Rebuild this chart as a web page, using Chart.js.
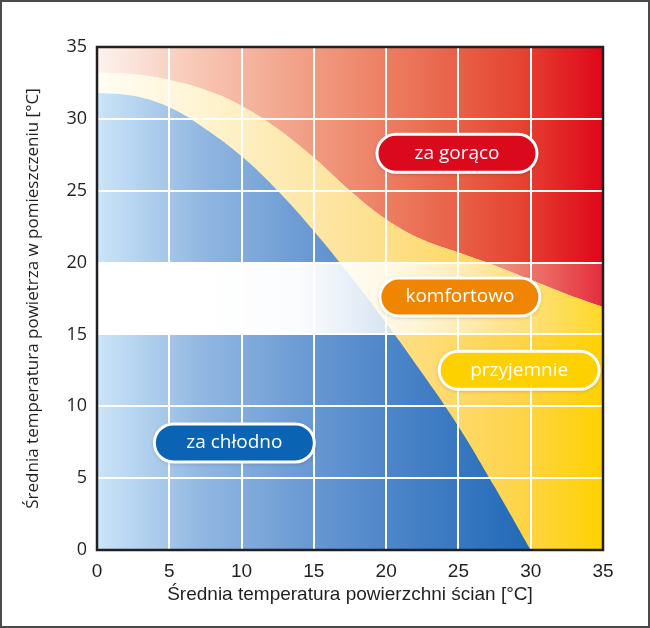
<!DOCTYPE html>
<html lang="pl">
<head>
<meta charset="utf-8">
<script src="https://cdn.jsdelivr.net/npm/chart.js@4.4.0/dist/chart.umd.min.js"></script>
<style>
  html, body { margin: 0; padding: 0; background: #fff; }
  #wrap { width: 650px; height: 628px; box-sizing: border-box; border: 2px solid #4a4a4a; }
  canvas { display: block; }
</style>
</head>
<body>
<div id="wrap"><canvas id="chart" width="646" height="624"></canvas></div>
<script>
// granica strefy "za chłodno" (temp. ścian -> temp. powietrza)
const coldX = [0, 2.5, 5, 7.5, 10, 12.5, 15, 17.5, 20, 22.5, 25, 27.5, 30];
const coldY = [31.8, 31.6, 30.8, 29.3, 27.4, 25.0, 22.2, 19.1, 15.8, 12.3, 8.6, 4.4, 0];

// granica strefy "za gorąco"
const hotX = [0, 2.5, 5, 7.5, 10, 12.5, 15, 17.5, 20, 22.5, 25, 27.5, 30, 32.5, 35];
const hotY = [33.2, 33.1, 32.7, 32.0, 30.9, 29.3, 27.3, 25.0, 23.0, 21.6, 20.7, 19.8, 18.8, 17.8, 16.9];

// pas komfortowy (temp. powietrza)
const comfortBand = [15, 20];

const xRange = [0, 35];
const yRange = [0, 35];
const tickStep = 5;

// ====================================================
// Etykiety stref
// ====================================================
const zoneLabels = [
  { text: "za gorąco", x: 24.9, y: 27.6, color: "#da0a1c" },
  { text: "komfortowo", x: 25.1, y: 17.6, color: "#ef8500" },
  { text: "przyjemnie", x: 29.2, y: 12.5, color: "#fdd000" },
  { text: "za chłodno", x: 9.5, y: 7.45, color: "#0b63b3" },
];

const toPoints = (xs, ys) => xs.map((x, i) => ({ x, y: ys[i] }));

function hGradient(stops) {
  return (ctx) => {
    const area = ctx.chart.chartArea;
    if (!area) return stops[0];
    const g = ctx.chart.ctx.createLinearGradient(area.left, 0, area.right, 0);
    stops.forEach((c, i) => g.addColorStop(i / (stops.length - 1), c));
    return g;
  };
}

const frameAndLabels = {
  id: "frameAndLabels",
  afterDraw(chart) {
    const { ctx, chartArea: a, scales: { x, y } } = chart;
    ctx.save();
    ctx.strokeStyle = "#231f20";
    ctx.lineWidth = 2.5;
    ctx.strokeRect(a.left, a.top, a.right - a.left, a.bottom - a.top);

    zoneLabels.forEach((l) => {
      const cx = x.getPixelForValue(l.x);
      const cy = y.getPixelForValue(l.y);
      const w = 160, h = 38;
      ctx.save();
      ctx.shadowColor = "rgba(0,0,0,0.3)";
      ctx.shadowBlur = 4;
      ctx.shadowOffsetY = 1;
      ctx.beginPath();
      ctx.roundRect(cx - w / 2, cy - h / 2, w, h, h / 2);
      ctx.fillStyle = l.color;
      ctx.fill();
      ctx.shadowColor = "transparent";
      ctx.lineWidth = 3;
      ctx.strokeStyle = "#fff";
      ctx.stroke();
      ctx.fillStyle = "#fff";
      ctx.font = '19px "Open Sans"';
      ctx.textAlign = "center";
      ctx.textBaseline = "middle";
      ctx.fillText(l.text, cx, cy);
      ctx.restore();
    });
    ctx.restore();
  },
};

const common = { borderWidth: 0, pointRadius: 0, tension: 0.4 };

new Chart(document.getElementById("chart"), {
  type: "line",
  data: {
    datasets: [
      {
        ...common,
        label: "komfortowo",
        data: toPoints(xRange, [comfortBand[1], comfortBand[1]]),
        fill: { value: comfortBand[0] },
        backgroundColor: hGradient([
          "rgba(255,255,255,1)", "rgba(255,255,255,1)", "rgba(255,255,255,0.97)",
          "rgba(255,255,255,0.75)", "rgba(255,255,255,0.35)", "rgba(255,255,255,0.15)",
        ]),
      },
      {
        ...common,
        label: "za chłodno",
        data: toPoints(coldX, coldY),
        fill: "start",
        backgroundColor: hGradient(["#cbe5f8", "#93b9e2", "#6d9bd4", "#4a83c8", "#2a6fbb", "#0e5fad"]),
      },
      {
        ...common,
        label: "przyjemnie",
        data: toPoints(hotX, hotY),
        fill: "start",
        backgroundColor: hGradient(["#fffdf3", "#fff6da", "#fdecb8", "#fde399", "#fedb74", "#fed44a", "#ffd200"]),
      },
      {
        ...common,
        label: "za gorąco",
        data: toPoints(hotX, hotY),
        fill: "end",
        backgroundColor: hGradient(["#fdf3ee", "#f9cdbd", "#f4ad96", "#ef8d72", "#ea6a4f", "#e54532", "#e0061a"]),
      },
    ],
  },
  plugins: [frameAndLabels],
  options: {
    responsive: false,
    animation: false,
    layout: { padding: { top: 45, right: 45, bottom: 0, left: 0 } },
    plugins: { legend: { display: false }, tooltip: { enabled: false } },
    scales: {
      x: {
        type: "linear",
        min: xRange[0],
        max: xRange[1],
        afterFit(s) { s.height = 76; },
        grid: { color: "#ffffff", lineWidth: 2, drawTicks: false, z: 1 },
        border: { display: false },
        ticks: {
          stepSize: tickStep,
          padding: 10,
          color: "#231f20",
          font: { family: '"Liberation Sans"', size: 19 },
        },
        title: {
          display: true,
          text: "Średnia temperatura powierzchni ścian [°C]",
          color: "#231f20",
          font: { family: '"Liberation Sans"', size: 19 },
          padding: { top: 0, bottom: 20 },
        },
      },
      y: {
        type: "linear",
        min: yRange[0],
        max: yRange[1],
        afterFit(s) { s.width = 95; },
        grid: { color: "#ffffff", lineWidth: 2, drawTicks: false, z: 1 },
        border: { display: false },
        ticks: {
          stepSize: tickStep,
          padding: 10,
          color: "#231f20",
          font: { family: '"Open Sans"', size: 18 },
        },
        title: {
          display: true,
          text: "Średnia temperatura powietrza w pomieszczeniu [°C]",
          color: "#231f20",
          font: { family: '"Open Sans"', size: 17 },
          padding: { top: 21, bottom: 0 },
        },
      },
    },
  },
});
</script>
</body>
</html>
